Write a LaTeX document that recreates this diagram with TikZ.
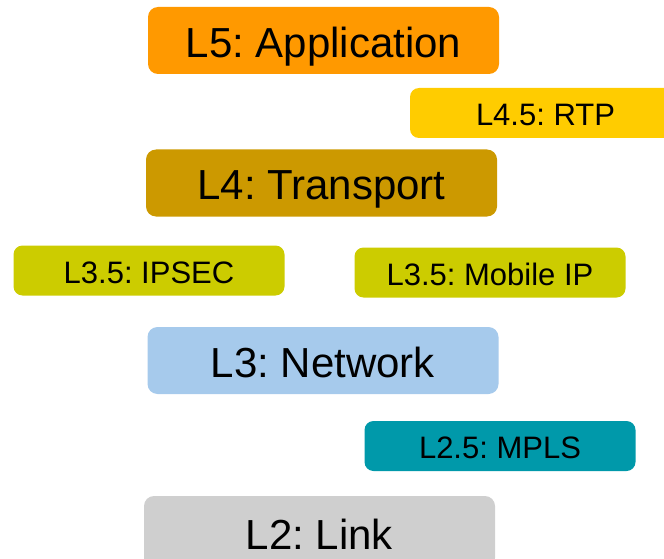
\documentclass[tikz,border=0pt]{standalone}
\usepackage{fontspec}
\setmainfont{Liberation Sans}
\frenchspacing
\definecolor{cL5}{HTML}{FF9900}
\definecolor{cRTP}{HTML}{FFCC00}
\definecolor{cL4}{HTML}{CC9900}
\definecolor{cL35}{HTML}{CCCC00}
\definecolor{cL3}{HTML}{A6CAEC}
\definecolor{cMPLS}{HTML}{0099AA}
\definecolor{cL2}{HTML}{CFCFCF}
\tikzset{
  layer/.style={rectangle, rounded corners=10pt, inner sep=0pt, draw=none,
    minimum width=351pt, minimum height=67pt, text height=34pt, text depth=0pt,
    font=\fontsize{42}{50}\selectfont\frenchspacing},
  sublayer/.style={rectangle, rounded corners=9pt, inner sep=0pt, draw=none,
    minimum width=271pt, minimum height=50pt, text height=25pt, text depth=0pt,
    font=\fontsize{31}{37}\selectfont\frenchspacing}
}
\begin{document}
\begin{tikzpicture}[x=1pt,y=-1pt]
\useasboundingbox (0,0) rectangle (664,559);
\clip (0,0) rectangle (664,559);
\node[layer, fill=cL5] (l5) at (323.5,40.5) {L5: Application};
\node[sublayer, fill=cRTP] (rtp) at (545.5,113) {L4.5: RTP};
\node[layer, fill=cL4] (l4) at (321.5,183) {L4: Transport};
\node[sublayer, fill=cL35] (ipsec) at (149,270.5) {L3.5: IPSEC};
\node[sublayer, fill=cL35] (mip) at (490,272.5) {L3.5: Mobile IP};
\node[layer, fill=cL3] (l3) at (323,360.5) {L3: Network};
\node[sublayer, fill=cMPLS] (mpls) at (500,446) {L2.5: MPLS};
\node[layer, fill=cL2, minimum height=72pt] (l2) at (319.5,532) {L2: Link};
\end{tikzpicture}
\end{document}
